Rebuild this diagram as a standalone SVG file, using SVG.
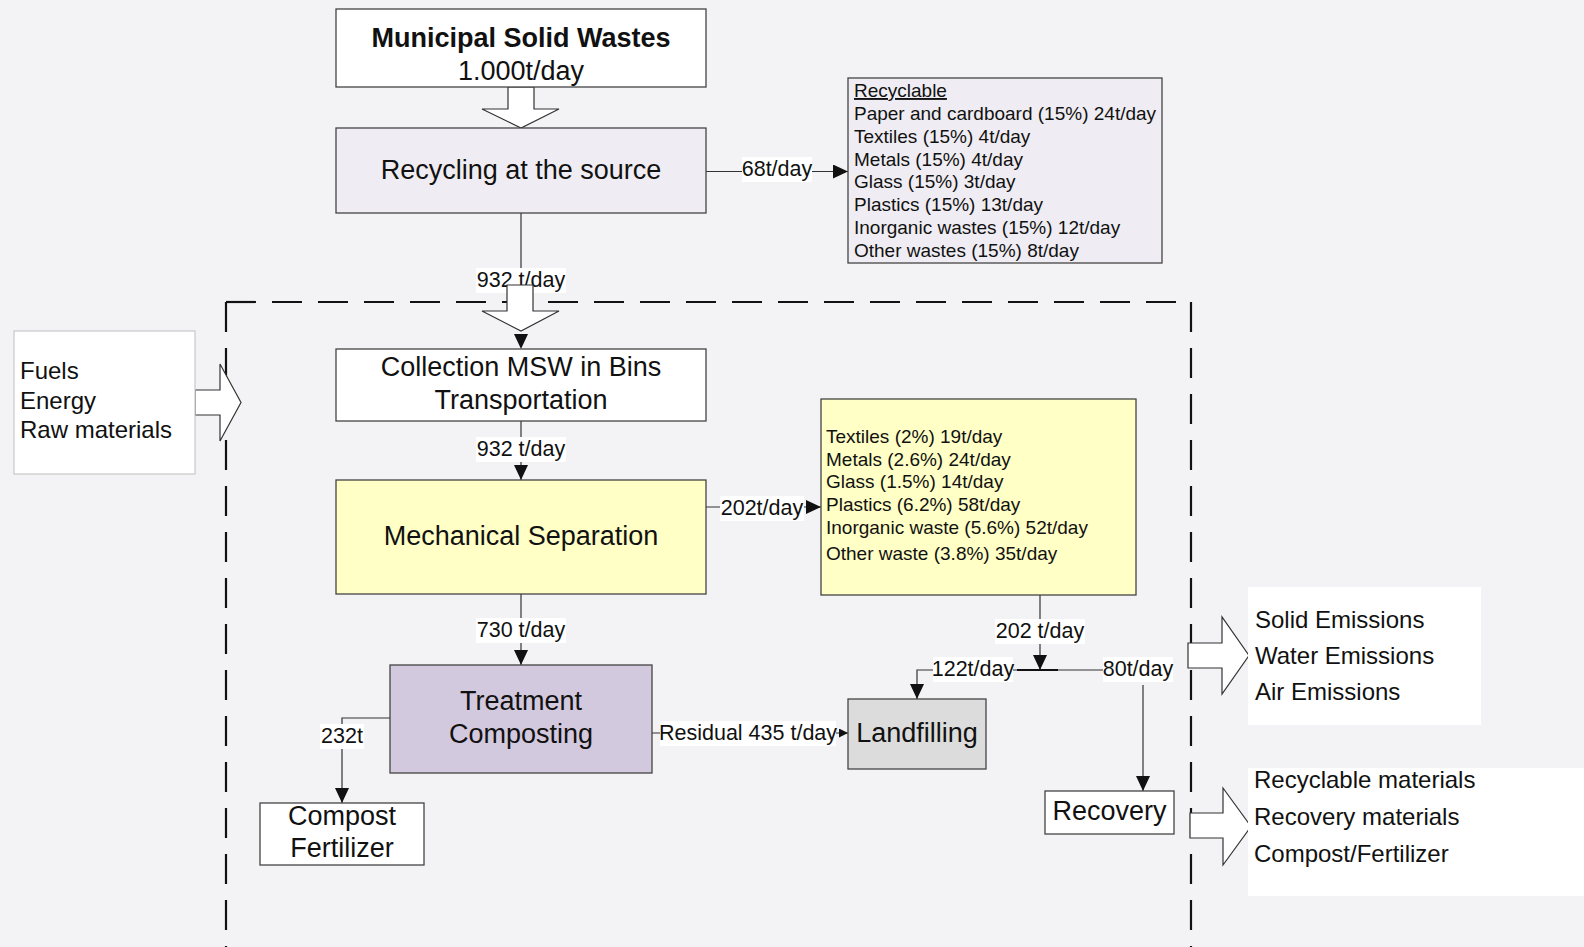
<svg xmlns="http://www.w3.org/2000/svg" width="1584" height="947" viewBox="0 0 1584 947">
  <style>
    text { font-family: "Liberation Sans", Arial, sans-serif; fill: #111; }
    .box { stroke: #444; stroke-width: 1.3; }
    .big { font-size: 27px; }
    .list { font-size: 19px; }
    .side { font-size: 24px; }
    .lbl { font-size: 21.5px; text-anchor: middle; }
    .mid { text-anchor: middle; }
    .lblbg { fill: #fff; }
    .edge { fill: none; stroke: #333; stroke-width: 1.2; }
    .dash { fill: none; stroke: #111; stroke-width: 2.2; stroke-dasharray: 30 16; }
    .barrow { fill: #fff; stroke: #333; stroke-width: 1.2; stroke-linejoin: miter; }
  </style>
  <defs>
    <marker id="arr" viewBox="0 0 15 14" refX="15" refY="7" markerWidth="15" markerHeight="14" markerUnits="userSpaceOnUse" orient="auto">
      <path d="M0,0 L15,7 L0,14 Z" fill="#111"/>
    </marker>
    <marker id="arrSmall" viewBox="0 0 10 10" refX="10" refY="5" markerWidth="9" markerHeight="9" markerUnits="userSpaceOnUse" orient="auto">
      <path d="M0,0 L10,5 L0,10 Z" fill="#111"/>
    </marker>
  </defs>

  <!-- page background -->
  <rect x="0" y="0" width="1584" height="947" fill="#f3f3f6"/>

  <!-- system boundary -->
  <g id="boundary">
    <line class="dash" x1="226" y1="302" x2="1191" y2="302"/>
    <line class="dash" x1="226" y1="302" x2="226" y2="947"/>
    <line class="dash" x1="1191" y1="302" x2="1191" y2="947"/>
  </g>

  <!-- connectors -->
  <g id="connectors">
    <path class="edge" d="M706,171.5 H848" marker-end="url(#arr)"/>
    <path class="edge" d="M521,213 V285"/>
    <path class="edge" d="M521,421 V480" marker-end="url(#arr)"/>
    <path class="edge" d="M706,507 H821" marker-end="url(#arr)"/>
    <path class="edge" d="M521,594 V665" marker-end="url(#arr)"/>
    <path class="edge" d="M390,718 H342 V803" marker-end="url(#arr)"/>
    <path class="edge" d="M652,733 H848" marker-end="url(#arrSmall)"/>
    <path class="edge" d="M1040,595 V670" marker-end="url(#arr)"/>
    <path class="edge" d="M1143,670 H917 V699" marker-end="url(#arr)"/>
    <path d="M1017,670 H1058" stroke="#111" stroke-width="2"/>
    <path class="edge" d="M1143,685 V791" marker-end="url(#arr)"/>

    <!-- flow labels -->
    <rect class="lblbg" x="742" y="157" width="70" height="25"/>
    <text class="lbl" x="777" y="176">68t/day</text>
    <rect class="lblbg" x="476" y="268" width="90" height="25"/>
    <text class="lbl" x="521" y="287">932 t/day</text>
    <rect class="lblbg" x="476" y="437" width="90" height="25"/>
    <text class="lbl" x="521" y="456">932 t/day</text>
    <rect class="lblbg" x="720" y="496" width="84" height="25"/>
    <text class="lbl" x="762" y="515">202t/day</text>
    <rect class="lblbg" x="476" y="618" width="90" height="25"/>
    <text class="lbl" x="521" y="637">730 t/day</text>
    <rect class="lblbg" x="320" y="724" width="44" height="25"/>
    <text class="lbl" x="342" y="743">232t</text>
    <rect class="lblbg" x="660" y="721" width="176" height="25"/>
    <text class="lbl" x="748" y="740">Residual 435 t/day</text>
    <rect class="lblbg" x="995" y="619" width="90" height="25"/>
    <text class="lbl" x="1040" y="638">202 t/day</text>
    <rect class="lblbg" x="933" y="657" width="80" height="25"/>
    <text class="lbl" x="973" y="676">122t/day</text>
    <rect class="lblbg" x="1103" y="657" width="70" height="25"/>
    <text class="lbl" x="1138" y="676">80t/day</text>
  </g>

  <!-- block arrows -->
  <g id="block-arrows">
    <polygon class="barrow" points="508,87 534,87 534,109 559,109 521,128 482,109 508,109"/>
    <polygon class="barrow" points="507,285 533,285 533,311 559,311 521,331 482,311 507,311"/>
    <polygon points="514,334 528,334 521,349" fill="#111"/>
    <polygon class="barrow" points="195,390 220,390 220,364 241,402.5 220,441 220,415 195,415"/>
    <polygon class="barrow" points="1188,643 1222,643 1222,617 1249,655.5 1222,694 1222,668 1188,668"/>
    <polygon class="barrow" points="1190,813 1223,813 1223,788 1251,826.5 1223,865 1223,838 1190,838"/>
  </g>

  <g id="msw">
    <rect class="box" x="336" y="9" width="370" height="78" fill="#fff"/>
    <text class="big mid" x="521" y="47" font-weight="bold">Municipal Solid Wastes</text>
    <text class="big mid" x="521" y="80">1.000t/day</text>
  </g>

  <g id="recycling-source">
    <rect class="box" x="336" y="128" width="370" height="85" fill="#efedf3"/>
    <text class="big mid" x="521" y="179">Recycling at the source</text>
  </g>

  <g id="recyclable">
    <rect class="box" x="848" y="78" width="314" height="185" fill="#efedf3"/>
    <text class="list" x="854" y="97" font-size="21" text-decoration="underline">Recyclable</text>
    <text class="list" x="854" y="120">Paper and cardboard (15%) 24t/day</text>
    <text class="list" x="854" y="143">Textiles (15%) 4t/day</text>
    <text class="list" x="854" y="166">Metals (15%) 4t/day</text>
    <text class="list" x="854" y="188">Glass (15%) 3t/day</text>
    <text class="list" x="854" y="211">Plastics (15%) 13t/day</text>
    <text class="list" x="854" y="234">Inorganic wastes (15%) 12t/day</text>
    <text class="list" x="854" y="257">Other wastes (15%) 8t/day</text>
  </g>

  <g id="inputs">
    <rect x="14" y="331" width="181" height="143" fill="#fff" stroke="#c8c8c8" stroke-width="1.2"/>
    <text class="side" x="20" y="379">Fuels</text>
    <text class="side" x="20" y="409">Energy</text>
    <text class="side" x="20" y="438">Raw materials</text>
  </g>

  <g id="collection">
    <rect class="box" x="336" y="349" width="370" height="72" fill="#fff"/>
    <text class="big mid" x="521" y="376">Collection MSW in Bins</text>
    <text class="big mid" x="521" y="409">Transportation</text>
  </g>

  <g id="mechanical">
    <rect class="box" x="336" y="480" width="370" height="114" fill="#ffffc6"/>
    <text class="big mid" x="521" y="545">Mechanical Separation</text>
  </g>

  <g id="separated">
    <rect class="box" x="821" y="399" width="315" height="196" fill="#ffffc6"/>
    <text class="list" x="826" y="443">Textiles (2%) 19t/day</text>
    <text class="list" x="826" y="466">Metals (2.6%) 24t/day</text>
    <text class="list" x="826" y="488">Glass (1.5%) 14t/day</text>
    <text class="list" x="826" y="511">Plastics (6.2%) 58t/day</text>
    <text class="list" x="826" y="534">Inorganic waste (5.6%) 52t/day</text>
    <text class="list" x="826" y="560">Other waste (3.8%) 35t/day</text>
  </g>

  <g id="treatment">
    <rect class="box" x="390" y="665" width="262" height="108" fill="#d3c9de"/>
    <text class="big mid" x="521" y="710">Treatment</text>
    <text class="big mid" x="521" y="743">Composting</text>
  </g>

  <g id="compost">
    <rect class="box" x="260" y="803" width="164" height="62" fill="#fff"/>
    <text class="big mid" x="342" y="825">Compost</text>
    <text class="big mid" x="342" y="857">Fertilizer</text>
  </g>

  <g id="landfilling">
    <rect class="box" x="848" y="699" width="138" height="70" fill="#dcdcdc"/>
    <text class="big mid" x="917" y="742">Landfilling</text>
  </g>

  <g id="recovery">
    <rect class="box" x="1045" y="791" width="129" height="43" fill="#fff"/>
    <text class="big mid" x="1109.5" y="820">Recovery</text>
  </g>

  <g id="emissions">
    <rect x="1248" y="587" width="233" height="138" fill="#fff"/>
    <text class="side" x="1255" y="628">Solid Emissions</text>
    <text class="side" x="1255" y="664">Water Emissions</text>
    <text class="side" x="1255" y="700">Air Emissions</text>
  </g>

  <g id="outputs">
    <rect x="1248" y="768" width="336" height="128" fill="#fff"/>
    <text class="side" x="1254" y="788">Recyclable materials</text>
    <text class="side" x="1254" y="825">Recovery materials</text>
    <text class="side" x="1254" y="862">Compost/Fertilizer</text>
  </g>
</svg>
